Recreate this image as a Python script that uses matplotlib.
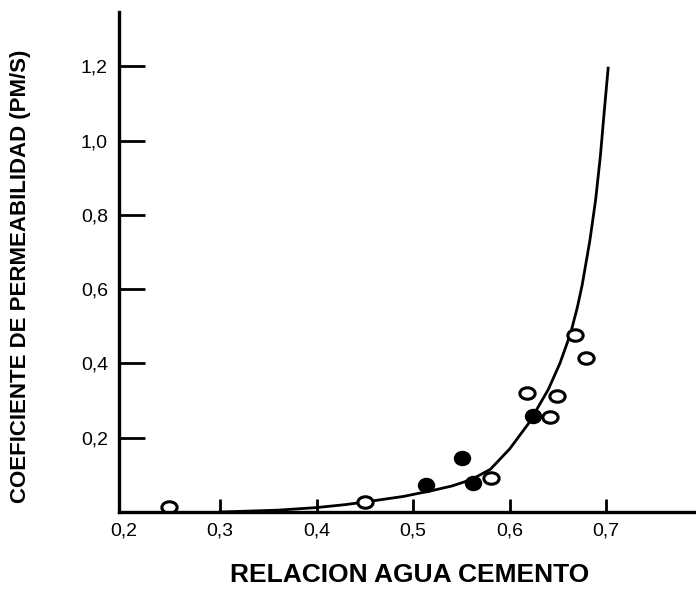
import matplotlib.pyplot as plt
from matplotlib.path import Path

# curve
curve_x = [0.30, 0.36, 0.40, 0.43, 0.45, 0.49, 0.52, 0.54, 0.56, 0.58, 0.60,
           0.62, 0.64, 0.652, 0.663, 0.670, 0.675, 0.683, 0.689, 0.694, 0.698, 0.702]
curve_y = [0.0, 0.005, 0.012, 0.02, 0.027, 0.042, 0.058, 0.07, 0.087, 0.115,
           0.17, 0.24, 0.33, 0.40, 0.48, 0.55, 0.61, 0.73, 0.84, 0.96, 1.08, 1.195]

open_x = [0.247, 0.450, 0.581, 0.618, 0.642, 0.649, 0.668, 0.679]
open_y = [0.013, 0.027, 0.092, 0.320, 0.256, 0.312, 0.476, 0.415]

filled_x = [0.513, 0.551, 0.562, 0.624]
filled_y = [0.073, 0.145, 0.078, 0.258]

x_ticks = [0.3, 0.4, 0.5, 0.6, 0.7]
x_labels = ["0,2", "0,3", "0,4", "0,5", "0,6", "0,7"]
y_ticks = [0.2, 0.4, 0.6, 0.8, 1.0, 1.2]
y_labels = ["0,2", "0,4", "0,6", "0,8", "1,0", "1,2"]

plt.rcParams["font.family"] = ["Liberation Sans", "DejaVu Sans"]

# the printed circles are a bit flattened
circ = Path.unit_circle()
oval = Path(circ.vertices * [1.0, 0.75], circ.codes)
oval_f = Path(circ.vertices * [1.0, 0.88], circ.codes)

fig = plt.figure(figsize=(6.96, 5.99), dpi=100)
ax = fig.add_axes([0.171, 0.1452, 0.829, 0.8347])

ax.plot(curve_x, curve_y, color="black", lw=2)
ax.plot(open_x, open_y, marker=oval, ms=11, mfc="white", mec="black", mew=2.2, ls="none")
ax.plot(filled_x, filled_y, marker=oval_f, ms=11.5, mfc="black", mec="black", ls="none")

ax.set_xlim(0.1953, 0.793)
ax.set_ylim(0, 1.346)

for side in ["top", "right"]:
    ax.spines[side].set_visible(False)
for side in ["left", "bottom"]:
    ax.spines[side].set_linewidth(2.4)

ax.set_yticks(y_ticks)
ax.set_yticklabels(y_labels)
ax.tick_params(axis="y", direction="in", length=19, width=2, pad=8, labelsize=14)

# x labels: 0,2 sits at the spine, without a tick mark
ax.set_xticks(x_ticks)
ax.set_xticklabels([])
ax.tick_params(axis="x", direction="in", length=9.5, width=2)
for v, lab in zip([0.2] + x_ticks, x_labels):
    ax.text(v, -0.02, lab, ha="center", va="top", fontsize=14,
            transform=ax.get_xaxis_transform())

fig.text(0.588, 0.040, "RELACION AGUA CEMENTO", ha="center", va="center",
         fontsize=19, fontweight="bold")
fig.text(0.030, 0.538, "COEFICIENTE DE PERMEABILIDAD (PM/S)", ha="center", va="center",
         rotation=90, fontsize=16, fontweight="bold")

fig.savefig("out.png", dpi=100)
plt.close(fig)
